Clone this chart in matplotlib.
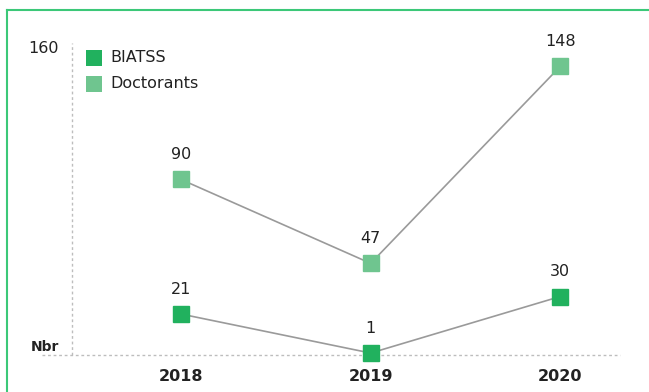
import matplotlib.pyplot as plt
from matplotlib.lines import Line2D
from matplotlib.patches import Rectangle

# data
years = ['2018', '2019', '2020']
biatss = [21, 1, 30]
doctorants = [90, 47, 148]
series_names = ['BIATSS', 'Doctorants']
series_colors = ['#21b15e', '#6fc58f']

plt.rcParams['font.family'] = ['DejaVu Sans']

W, H = 649, 392
fig = plt.figure(figsize=(W / 100, H / 100), dpi=100)

# green frame (left + top, running off the image)
fig.add_artist(Line2D([7 / W, 7 / W], [0, 1 - 10 / H], color='#3cc878', lw=1.5))
fig.add_artist(Line2D([7 / W, 1], [1 - 10 / H, 1 - 10 / H], color='#3cc878', lw=1.5))

ax = fig.add_axes([72 / W, 37 / H, (620 - 72) / W, (349 - 37) / H])
x = list(range(len(years)))
ax.set_xlim(-0.575, 2.315)
ax.set_ylim(0, 160)

for sp in ax.spines.values():
    sp.set_visible(False)
ax.set_xticks([])
ax.set_yticks([])

# dotted axis guides
ax.plot([0, 0], [0, 1], transform=ax.transAxes, ls=(0, (2, 2)), color='#bdbdbd', lw=1, clip_on=False)
ax.plot([-30 / 548, 1], [0, 0], transform=ax.transAxes, ls=(0, (2, 2)), color='#bdbdbd', lw=1, clip_on=False)

txt = '#222222'
for vals, name, col in [(doctorants, series_names[1], series_colors[1]),
                        (biatss, series_names[0], series_colors[0])]:
    ax.plot(x, vals, color='#9a9a9a', lw=1.2, zorder=2, clip_on=False)
    ax.plot(x, vals, 's', color=col, ms=11.5, zorder=3, clip_on=False)
    for xi, v in zip(x, vals):
        ax.annotate(str(v), (xi, v), xytext=(0, 18), textcoords='offset points',
                    ha='center', va='center', fontsize=11.5, color=txt)

# axis labels
ax.text(-13 / 548, 157, '160', transform=ax.get_yaxis_transform(), ha='right', va='center',
        fontsize=11.5, color=txt)
ax.text(-13 / 548, 4, 'Nbr', transform=ax.get_yaxis_transform(), ha='right', va='center',
        fontsize=10, fontweight='bold', color=txt)
for xi, y in zip(x, years):
    ax.text(xi, -11, y, ha='center', va='center', fontsize=11.5, fontweight='bold',
            color=txt, clip_on=False)

# legend
for i, (name, col) in enumerate(zip(series_names, series_colors)):
    yc = 1 - (58 + 26 * i) / H
    fig.add_artist(Rectangle((86 / W, yc - 8 / H), 16 / W, 16 / H, color=col, lw=0))
    fig.text(110 / W, yc, name, ha='left', va='center', fontsize=11.5, color=txt)

fig.savefig('out.png', dpi=100)
